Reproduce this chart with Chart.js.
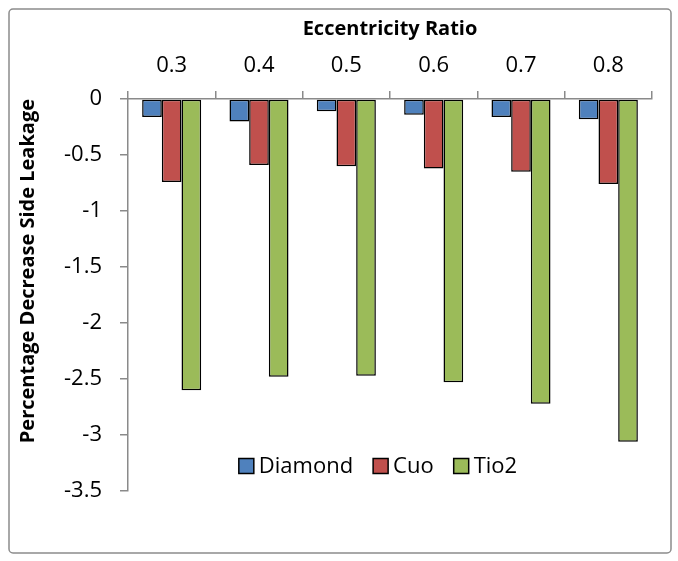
<!DOCTYPE html>
<html>
<head>
<meta charset="utf-8">
<script src="https://cdn.jsdelivr.net/npm/chart.js@4"></script>
<style>
  html, body { margin: 0; padding: 0; background: #fff; }
  canvas { display: block; }
</style>
</head>
<body>
<canvas id="c" width="678" height="561"></canvas>
<script>
const categories = ['0.3', '0.4', '0.5', '0.6', '0.7', '0.8'];
const diamond = [-0.16, -0.20, -0.11, -0.14, -0.16, -0.18];
const cuo     = [-0.74, -0.59, -0.60, -0.62, -0.65, -0.76];
const tio2    = [-2.60, -2.48, -2.47, -2.53, -2.72, -3.06];
const seriesNames = ['Diamond', 'Cuo', 'Tio2'];
const seriesColors = ['#4F81BD', '#C0504D', '#9BBB59'];
const yMin = -3.5, yMax = 0, yStep = 0.5;

const FONT = '"Open Sans", "Noto Sans", sans-serif';
const AXIS_COLOR = '#8a8a8a';

const framePlugin = {
  id: 'frame',
  beforeDraw(chart) {
    const ctx = chart.ctx;
    ctx.save();
    ctx.fillStyle = '#ffffff';
    ctx.fillRect(0, 0, chart.width, chart.height);
    ctx.strokeStyle = '#8c8c8c';
    ctx.lineWidth = 1.5;
    ctx.beginPath();
    ctx.roundRect(9, 9, 662, 544, 4);
    ctx.stroke();
    ctx.restore();
  }
};

const legendPlugin = {
  id: 'innerLegend',
  afterDraw(chart) {
    const ctx = chart.ctx;
    ctx.save();
    ctx.font = '22px ' + FONT;
    ctx.textBaseline = 'middle';
    ctx.textAlign = 'left';
    const box = 15, gapText = 5, gapItem = 20;
    const items = chart.data.datasets.map(ds => ({
      label: ds.label, color: ds.backgroundColor, w: ctx.measureText(ds.label).width
    }));
    const total = items.reduce((a, it) => a + box + gapText + it.w, 0) + gapItem * (items.length - 1);
    const cx = 378, cy = 466;
    let x = cx - total / 2;
    items.forEach(it => {
      ctx.fillStyle = it.color;
      ctx.fillRect(x, cy - box / 2, box, box);
      ctx.strokeStyle = '#000';
      ctx.lineWidth = 1.5;
      ctx.strokeRect(x, cy - box / 2, box, box);
      ctx.fillStyle = '#000';
      ctx.fillText(it.label, x + box + gapText, cy + 1);
      x += box + gapText + it.w + gapItem;
    });
    ctx.restore();
  }
};

const seriesData = [diamond, cuo, tio2];

new Chart(document.getElementById('c'), {
  type: 'bar',
  data: {
    labels: categories,
    datasets: seriesData.map((d, i) => ({
      label: seriesNames[i],
      data: d,
      backgroundColor: seriesColors[i],
      borderColor: '#000000',
      borderWidth: 1.5,
      borderSkipped: false,
      categoryPercentage: 0.676,
      barPercentage: 1.0
    }))
  },
  options: {
    responsive: false,
    animation: false,
    devicePixelRatio: 1,
    layout: { padding: { left: 0, right: 26, top: 0, bottom: 70 } },
    plugins: {
      legend: { display: false },
      tooltip: { enabled: false },
      title: { display: false }
    },
    scales: {
      x: {
        position: 'top',
        afterFit(s) { s.height = 99; },
        grid: {
          display: true,
          drawOnChartArea: false,
          drawTicks: true,
          tickLength: 8,
          color: AXIS_COLOR,
          lineWidth: 1.5,
          offset: true
        },
        border: { display: true, color: AXIS_COLOR, width: 1.5 },
        ticks: {
          color: '#000',
          font: { family: FONT, size: 22 },
          padding: 12,
          maxRotation: 0,
          autoSkip: false
        },
        title: {
          display: true,
          text: 'Eccentricity Ratio',
          color: '#000',
          font: { family: FONT, size: 20, weight: 'bold' },
          padding: { top: 17, bottom: 0 }
        }
      },
      y: {
        min: yMin,
        max: yMax,
        afterFit(s) { s.width = 128; },
        grid: {
          display: true,
          drawOnChartArea: false,
          drawTicks: true,
          tickLength: 8,
          color: AXIS_COLOR,
          lineWidth: 1.5
        },
        border: { display: true, color: AXIS_COLOR, width: 1.5 },
        ticks: {
          stepSize: yStep,
          color: '#000',
          font: { family: FONT, size: 22 },
          padding: 18,
          callback: v => String(Math.round(v * 10) / 10)
        },
        title: {
          display: true,
          text: 'Percentage Decrease Side Leakage',
          align: 'end',
          color: '#000',
          font: { family: FONT, size: 20, weight: 'bold' },
          padding: { top: 16, bottom: 0 }
        }
      }
    }
  },
  plugins: [framePlugin, legendPlugin]
});
</script>
</body>
</html>
